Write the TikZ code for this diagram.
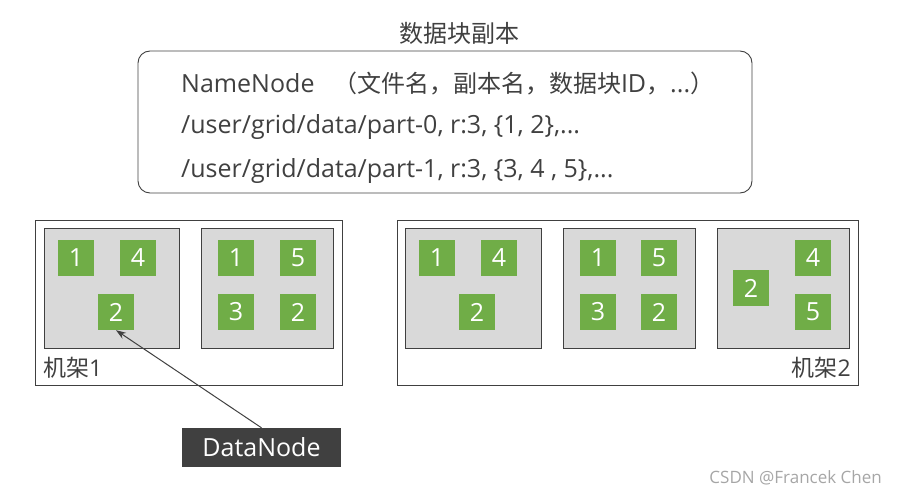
\documentclass[tikz,border=0pt]{standalone}
\usepackage{fontspec}
\setmainfont{Open Sans}
\newfontfamily\cjk{Noto Sans CJK SC}
\usetikzlibrary{arrows.meta,positioning}

\definecolor{blockgreen}{HTML}{70AD47}
\definecolor{boxgray}{HTML}{D9D9D9}
\definecolor{linegray}{HTML}{404040}

\begin{document}
\begin{tikzpicture}[
    x=1pt, y=-1pt,
    rack/.style={draw=linegray, line width=0.9pt},
    machine/.style={draw=linegray, fill=boxgray, line width=0.9pt},
    blk/.style={rectangle, fill=blockgreen, text=white, minimum size=36pt, inner sep=0pt, font=\fontsize{25}{27}\selectfont},
    line/.style={anchor=west, inner sep=0pt, font=\fontsize{25}{27}\selectfont, text=linegray},
    label/.style={inner sep=0pt, font=\fontsize{23}{26}\selectfont, text=linegray},
    arrow/.style={-{Stealth[length=10pt,width=7pt]}, draw=linegray, line width=1pt}
]
\useasboundingbox (0,0) rectangle (897,494);

% Title and NameNode table
\node[label, font=\cjk\fontsize{24}{26}\selectfont] (title) at (459,33) {数据块副本};
\draw[draw=linegray, line width=0.9pt, rounded corners=12pt] (138,51) rectangle (752,193);
\node[line] (nn) at (181,84) {NameNode\hspace{12pt} {\cjk\fontsize{24}{27}\selectfont （文件名，副本名，数据块}ID{\cjk\fontsize{24}{27}\selectfont ，}...{\cjk\fontsize{24}{27}\selectfont ）}};
\node[line] (p0) at (181,127) {/user/grid/data/part-0, r:3, \{1, 2\},...};
\node[line] (p1) at (181,171) {/user/grid/data/part-1, r:3, \{3, 4 , 5\},...};

% Rack 1
\draw[rack] (35,220) rectangle (342,385);
\draw[machine] (44,228) rectangle (179,348);
\draw[machine] (201,228) rectangle (333,348);
\node[blk] (r1m1b1) at (76,258) {1};
\node[blk] (r1m1b4) at (138,258) {4};
\node[blk] (r1m1b2) at (116,312) {2};
\node[blk] (r1m2b1) at (236,258) {1};
\node[blk] (r1m2b5) at (298,258) {5};
\node[blk] (r1m2b3) at (236,312) {3};
\node[blk] (r1m2b2) at (298,312) {2};
\node[label, anchor=west] (rack1) at (43,368) {{\cjk 机架}1};

% Rack 2
\draw[rack] (397,220) rectangle (858,385);
\draw[machine] (405,228) rectangle (541,348);
\draw[machine] (563,228) rectangle (695,348);
\draw[machine] (717,228) rectangle (849,348);
\node[blk] (r2m1b1) at (437,258) {1};
\node[blk] (r2m1b4) at (499,258) {4};
\node[blk] (r2m1b2) at (477,312) {2};
\node[blk] (r2m2b1) at (598,258) {1};
\node[blk] (r2m2b5) at (659,258) {5};
\node[blk] (r2m2b3) at (598,312) {3};
\node[blk] (r2m2b2) at (659,312) {2};
\node[blk] (r2m3b2) at (751,288) {2};
\node[blk] (r2m3b4) at (813,258) {4};
\node[blk] (r2m3b5) at (813,312) {5};
\node[label, anchor=east] (rack2) at (851,368) {{\cjk 机架}2};

% DataNode
\node[rectangle, fill=linegray, text=white, minimum width=159pt, minimum height=39pt, font=\fontsize{25}{27}\selectfont] (dn) at (261.5,447.5) {DataNode};
\draw[arrow] (dn.north) -- (r1m1b2.south);

% Watermark
\node[anchor=east, font=\fontsize{17}{19}\selectfont, text=gray!70, inner sep=0pt] (mark) at (882,478) {CSDN @Francek Chen};
\end{tikzpicture}
\end{document}
